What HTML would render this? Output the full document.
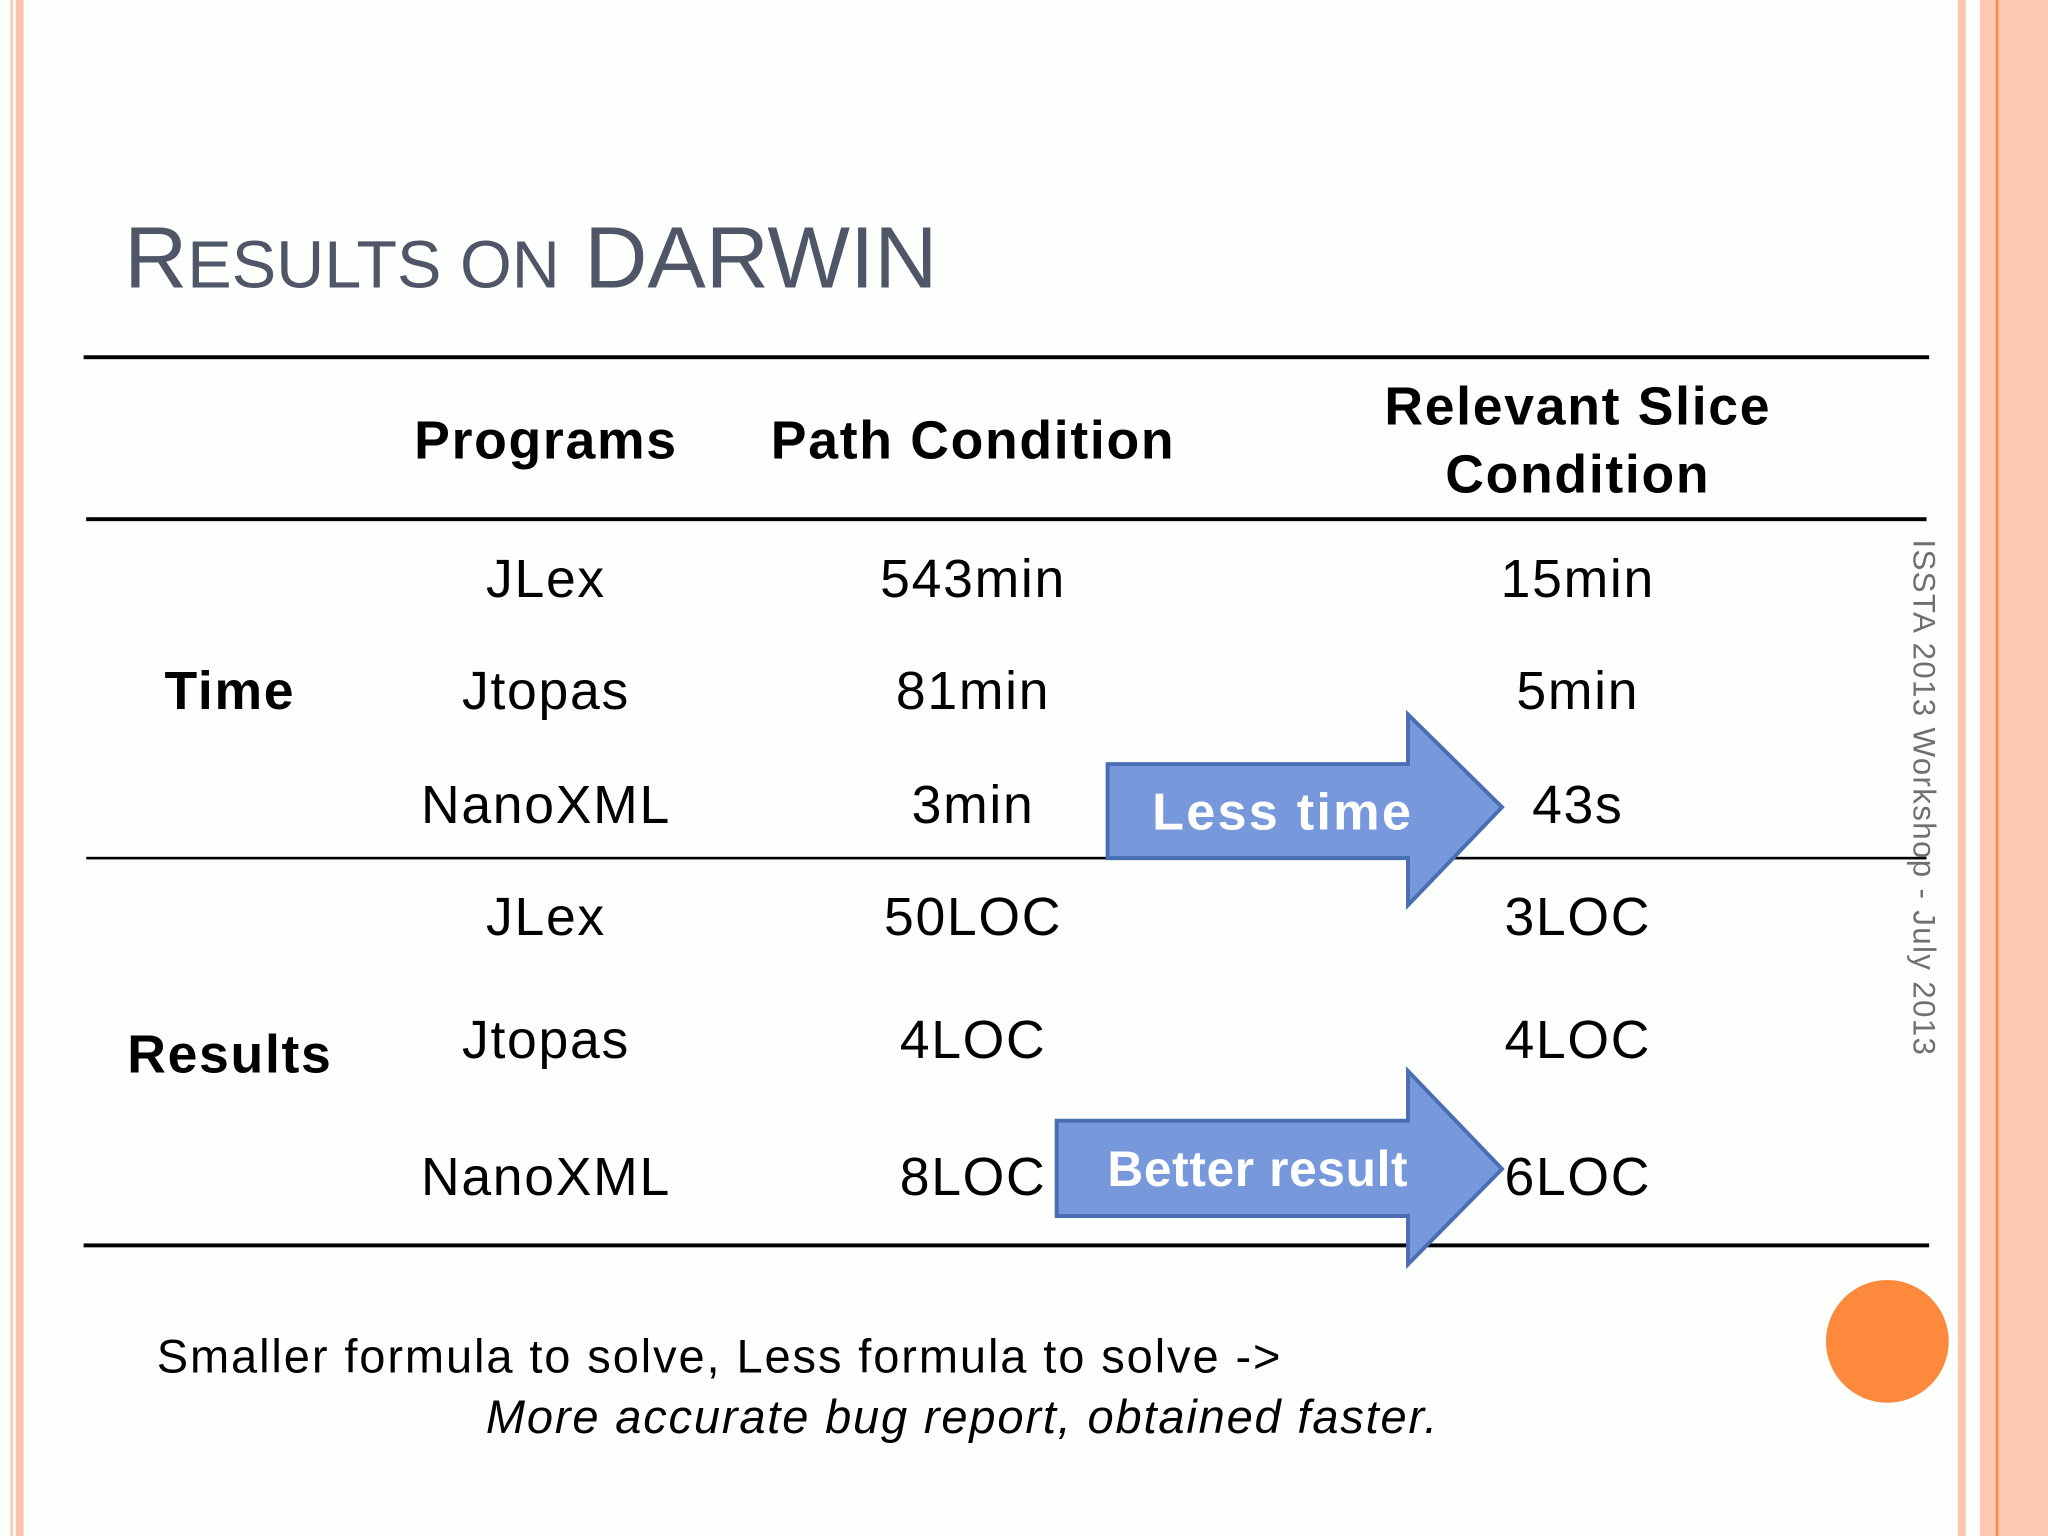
<!DOCTYPE html>
<html><head><meta charset="utf-8"><style>
html,body{margin:0;padding:0;background:#fff;}
#wrap{width:2048px;height:1536px;overflow:hidden;position:relative;}
#s{position:absolute;left:0;top:0;width:1568px;height:1176px;transform:scale(1.30612);transform-origin:0 0;background:#fdfffd;font-family:"Liberation Sans",sans-serif;}
.a{position:absolute;white-space:nowrap;}
.c{transform:translateX(-50%);text-align:center;}
.h{font-weight:bold;font-size:41px;color:#000;letter-spacing:1.3px;}
.b{font-size:41px;color:#000;letter-spacing:1.3px;}
.ln{position:absolute;background:#000;}
</style></head><body>
<div id="wrap"><div id="s">
<div class="a" style="left:8px;top:0;width:2px;height:1176px;background:#f8cbb6"></div>
<div class="a" style="left:12px;top:0;width:6px;height:1176px;background:#fac4aa"></div>
<div class="a" style="left:1499px;top:0;width:6px;height:1176px;background:#fcc7b0"></div>
<div class="a" style="left:1516px;top:0;width:52px;height:1176px;background:#fdc8b2"></div>
<div class="a" style="left:1528px;top:0;width:2px;height:1176px;background:#f58a4a"></div>

<div class="a" style="left:95px;top:160px;font-size:67px;color:#4e5668;line-height:76px">R<span style="font-size:51px">ESULTS ON</span> DARWIN</div>

<div class="ln" style="left:64px;top:272px;width:1413px;height:3px"></div>
<div class="ln" style="left:66px;top:396px;width:1409px;height:3px"></div>
<div class="ln" style="left:66px;top:656px;width:1409px;height:2px"></div>
<div class="ln" style="left:64px;top:952px;width:1413px;height:3px"></div>

<div class="a c h" style="left:418px;top:313px;line-height:48px">Programs</div>
<div class="a c h" style="left:745px;top:313px;line-height:48px">Path Condition</div>
<div class="a c h" style="left:1208px;top:285px;line-height:52px">Relevant Slice<br>Condition</div>

<div class="a c h" style="left:176px;top:505px;line-height:48px">Time</div>
<div class="a c h" style="left:176px;top:783px;line-height:48px">Results</div>

<div class="a c b" style="left:418px;top:419px;line-height:48px">JLex</div>
<div class="a c b" style="left:745px;top:419px;line-height:48px">543min</div>
<div class="a c b" style="left:1208px;top:419px;line-height:48px">15min</div>
<div class="a c b" style="left:418px;top:505px;line-height:48px">Jtopas</div>
<div class="a c b" style="left:745px;top:505px;line-height:48px">81min</div>
<div class="a c b" style="left:1208px;top:505px;line-height:48px">5min</div>
<div class="a c b" style="left:418px;top:592px;line-height:48px">NanoXML</div>
<div class="a c b" style="left:745px;top:592px;line-height:48px">3min</div>
<div class="a c b" style="left:1208px;top:592px;line-height:48px">43s</div>
<div class="a c b" style="left:418px;top:678px;line-height:48px">JLex</div>
<div class="a c b" style="left:745px;top:678px;line-height:48px">50LOC</div>
<div class="a c b" style="left:1208px;top:678px;line-height:48px">3LOC</div>
<div class="a c b" style="left:418px;top:772px;line-height:48px">Jtopas</div>
<div class="a c b" style="left:745px;top:772px;line-height:48px">4LOC</div>
<div class="a c b" style="left:1208px;top:772px;line-height:48px">4LOC</div>
<div class="a c b" style="left:418px;top:877px;line-height:48px">NanoXML</div>
<div class="a c b" style="left:745px;top:877px;line-height:48px">8LOC</div>
<div class="a c b" style="left:1208px;top:877px;line-height:48px">6LOC</div>

<svg class="a" style="left:0;top:0" width="1568" height="1176">
<polygon points="848,585 1078,585 1078,547 1150,618 1078,693 1078,657 848,657" fill="#7799dc" stroke="#4a6eb3" stroke-width="3"/>
<polygon points="809,858 1078,858 1078,820 1150,895 1078,968 1078,931 809,931" fill="#7799dc" stroke="#4a6eb3" stroke-width="3"/>
</svg>
<div class="a c" style="left:982px;top:598px;font-size:40px;font-weight:bold;color:#fff;line-height:48px;letter-spacing:1.7px">Less time</div>
<div class="a c" style="left:963px;top:873px;font-size:38px;font-weight:bold;color:#fff;line-height:46px;letter-spacing:0.5px">Better result</div>

<div class="a" style="left:1486px;top:413px;transform:rotate(90deg);transform-origin:0 0;font-size:24px;color:#707070;line-height:28px;letter-spacing:1px">ISSTA 2013 Workshop - July 2013</div>
<div class="a" style="left:1398px;top:980px;width:94px;height:94px;border-radius:50%;background:#fd8a3c"></div>

<div class="a" style="left:120px;top:1017px;font-size:36px;color:#000;line-height:44px;letter-spacing:1.45px">Smaller formula to solve, Less formula to solve -&gt;</div>
<div class="a" style="left:372px;top:1063px;font-size:36px;font-style:italic;color:#000;line-height:44px;letter-spacing:1.4px">More accurate bug report, obtained faster.</div>
</div></div>
</body></html>
